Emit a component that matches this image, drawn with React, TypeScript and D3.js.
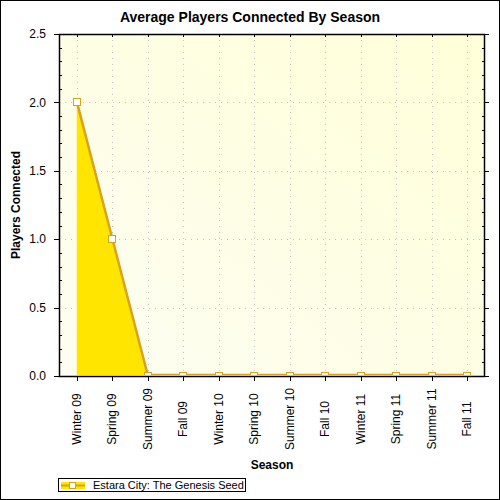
import { useEffect, useRef } from 'react';
import * as d3 from 'd3';

const seasons = [
  'Winter 09', 'Spring 09', 'Summer 09', 'Fall 09', 'Winter 10', 'Spring 10',
  'Summer 10', 'Fall 10', 'Winter 11', 'Spring 11', 'Summer 11', 'Fall 11',
];
const playersConnected = [2, 1, 0, 0, 0, 0, 0, 0, 0, 0, 0, 0];
const yTickLabels = [0, 0.5, 1, 1.5, 2, 2.5];
const seriesName = 'Estara City: The Genesis Seed';

const App = () => {
  const svgRef = useRef<SVGSVGElement>(null);

  useEffect(() => {
    if (!svgRef.current) return;
    const width = 500;
    const height = 500;
    const svg = d3.select(svgRef.current);
    svg.selectAll('*').remove();

    const font = 'Arial, "Liberation Sans", sans-serif';
    const left = 59, right = 485, top = 34, bottom = 376;

    const x = d3.scalePoint<string>().domain(seasons).range([left, right]).padding(0.5);
    const y = d3.scaleLinear().domain([0, 2.5]).range([bottom, top]);

    // outer frame
    svg.append('rect')
      .attr('x', 0.5).attr('y', 0.5)
      .attr('width', width - 1).attr('height', height - 1)
      .attr('fill', '#fff').attr('stroke', '#000');

    // plot background gradient + clip
    const defs = svg.append('defs');
    const grad = defs.append('linearGradient')
      .attr('id', 'bg').attr('x1', '0').attr('y1', '1').attr('x2', '1').attr('y2', '0');
    grad.append('stop').attr('offset', '0%').attr('stop-color', '#fdfdf2');
    grad.append('stop').attr('offset', '100%').attr('stop-color', '#ffffd8');
    defs.append('clipPath').attr('id', 'plot-clip')
      .append('rect')
      .attr('x', left).attr('y', top - 5)
      .attr('width', right - left).attr('height', bottom - top + 4);

    svg.append('rect')
      .attr('x', left).attr('y', top)
      .attr('width', right - left).attr('height', bottom - top)
      .attr('fill', 'url(#bg)');

    // dotted grid
    const grid = svg.append('g')
      .attr('stroke', '#c4c4c4').attr('stroke-dasharray', '1,5');
    yTickLabels.filter(v => v > 0 && v < 2.5).forEach(v => {
      grid.append('line')
        .attr('x1', left).attr('x2', right)
        .attr('y1', Math.round(y(v)) + 0.5).attr('y2', Math.round(y(v)) + 0.5);
    });
    seasons.forEach(s => {
      grid.append('line')
        .attr('x1', Math.round(x(s)!) + 0.5).attr('x2', Math.round(x(s)!) + 0.5)
        .attr('y1', top).attr('y2', bottom);
    });

    // area + line
    const area = d3.area<number>()
      .x((_, i) => x(seasons[i])!)
      .y0(y(0))
      .y1(d => y(d));
    const line = d3.line<number>()
      .x((_, i) => x(seasons[i])!)
      .y(d => y(d) - 1);

    const plot = svg.append('g').attr('clip-path', 'url(#plot-clip)');
    plot.append('path')
      .datum(playersConnected)
      .attr('d', area)
      .attr('fill', '#ffe500');
    plot.append('path')
      .datum(playersConnected)
      .attr('d', line)
      .attr('fill', 'none')
      .attr('stroke', '#d9a21b')
      .attr('stroke-width', 2.5);

    playersConnected.forEach((d, i) => {
      plot.append('rect')
        .attr('x', Math.round(x(seasons[i])!) - 3.5)
        .attr('y', Math.round(y(d)) - 3.5)
        .attr('width', 7).attr('height', 7)
        .attr('fill', '#fff')
        .attr('stroke', '#d9a21b')
        .attr('stroke-width', 1);
    });

    // plot border
    svg.append('rect')
      .attr('x', left + 0.5).attr('y', top + 0.5)
      .attr('width', right - left - 1).attr('height', bottom - top)
      .attr('fill', 'none').attr('stroke', '#000').attr('stroke-width', 1.5);

    // y ticks
    const minor = d3.range(0, 26).map(i => i / 10);
    const ticks = svg.append('g').attr('stroke', '#000');
    minor.forEach(v => {
      const yy = Math.round(y(v)) + 0.5;
      const major = yTickLabels.some(t => Math.abs(t - v) < 1e-9);
      if (major) {
        ticks.append('line').attr('x1', left - 5).attr('x2', left).attr('y1', yy).attr('y2', yy);
        ticks.append('line').attr('x1', right).attr('x2', right + 4).attr('y1', yy).attr('y2', yy);
      } else {
        ticks.append('line').attr('x1', left).attr('x2', left + 3).attr('y1', yy).attr('y2', yy);
        ticks.append('line').attr('x1', right - 3).attr('x2', right).attr('y1', yy).attr('y2', yy);
      }
    });
    seasons.forEach(s => {
      const xx = Math.round(x(s)!) + 0.5;
      ticks.append('line').attr('x1', xx).attr('x2', xx).attr('y1', bottom).attr('y2', bottom + 5);
      ticks.append('line').attr('x1', xx).attr('x2', xx).attr('y1', top).attr('y2', top + 3);
    });

    // y labels
    yTickLabels.forEach(v => {
      svg.append('text')
        .attr('x', 46).attr('y', y(v))
        .attr('dy', '0.35em')
        .attr('text-anchor', 'end')
        .attr('font-family', font).attr('font-size', 12)
        .attr('fill', '#000')
        .text(d3.format('.1f')(v));
    });

    // x labels
    seasons.forEach(s => {
      svg.append('text')
        .attr('transform', `translate(${x(s)! + 4},419) rotate(-90)`)
        .attr('text-anchor', 'middle')
        .attr('font-family', font).attr('font-size', 12)
        .attr('fill', '#000')
        .text(s);
    });

    // title + axis titles
    svg.append('text')
      .attr('x', 250).attr('y', 22)
      .attr('text-anchor', 'middle')
      .attr('font-family', font).attr('font-size', 14).attr('font-weight', 'bold')
      .text('Average Players Connected By Season');
    svg.append('text')
      .attr('x', (left + right) / 2).attr('y', 469)
      .attr('text-anchor', 'middle')
      .attr('font-family', font).attr('font-size', 12).attr('font-weight', 'bold')
      .text('Season');
    svg.append('text')
      .attr('transform', `translate(20,${(top + bottom) / 2}) rotate(-90)`)
      .attr('text-anchor', 'middle')
      .attr('font-family', font).attr('font-size', 12).attr('font-weight', 'bold')
      .text('Players Connected');

    // legend
    const lg = svg.append('g');
    lg.append('rect')
      .attr('x', 58.5).attr('y', 478.5).attr('width', 187).attr('height', 13)
      .attr('fill', '#fff').attr('stroke', '#000');
    lg.append('rect')
      .attr('x', 61).attr('y', 482).attr('width', 24).attr('height', 7)
      .attr('fill', '#ffe500');
    lg.append('line')
      .attr('x1', 61).attr('x2', 85).attr('y1', 485.5).attr('y2', 485.5)
      .attr('stroke', '#d9a21b').attr('stroke-width', 2);
    lg.append('rect')
      .attr('x', 69.5).attr('y', 482.5).attr('width', 6).attr('height', 6)
      .attr('fill', '#fff').attr('stroke', '#d9a21b');
    lg.append('text')
      .attr('x', 93).attr('y', 489)
      .attr('font-family', font).attr('font-size', 11)
      .attr('fill', '#000')
      .text(seriesName);
  }, []);

  return (
    <svg
      ref={svgRef}
      width={500}
      height={500}
      style={{ position: 'absolute', left: 0, top: 0, display: 'block' }}
    />
  );
};

export default App;
